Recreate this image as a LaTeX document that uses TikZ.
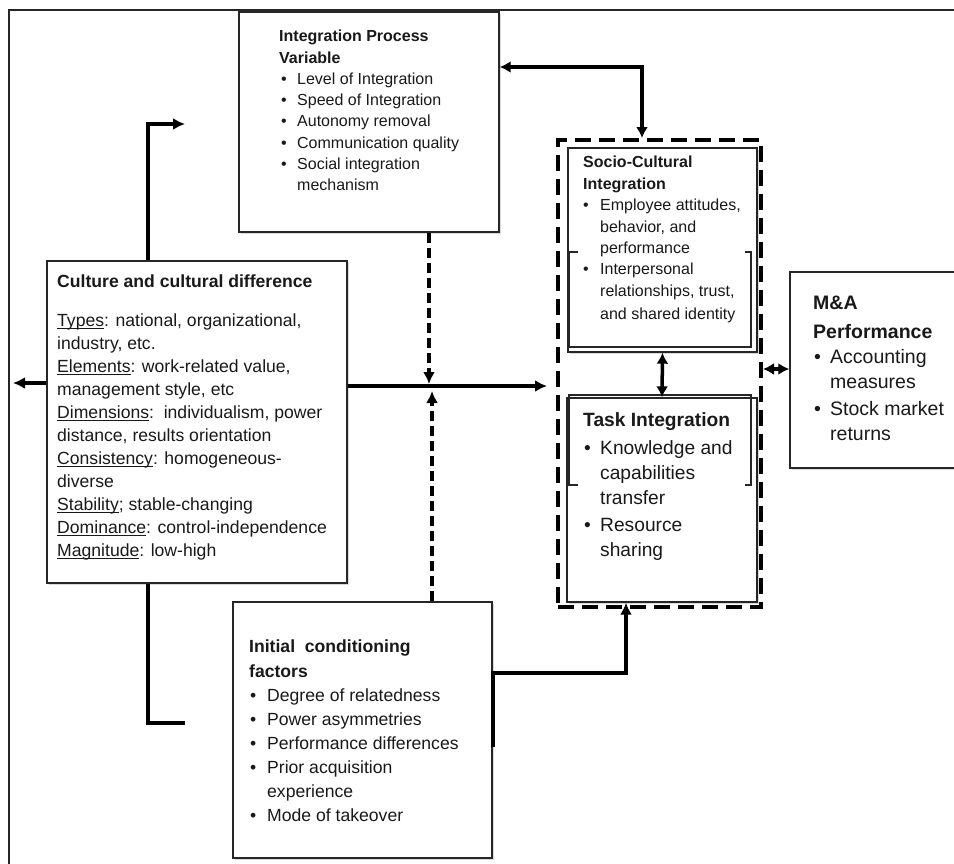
\documentclass[tikz,border=0pt]{standalone}
\usepackage{fontspec}
\setmainfont{Liberation Sans}
\usetikzlibrary{arrows.meta,shadows,calc}
\newcommand*{\bitem}[2]{\hspace*{#1}\makebox[#2][l]{\textbullet}}
\newcommand*{\bnext}[1]{\hspace*{#1}}
\newcommand*{\uword}[1]{\setbox0\hbox{#1}\rlap{\rule[-2.2pt]{\wd0}{0.9pt}}\box0}

\begin{document}
\begin{tikzpicture}[x=1pt,y=-1pt]
		\tikzset{
			box/.style = {draw = black!85, line width = 1.4pt, fill = white, inner sep = 0pt,
				drop shadow = {shadow xshift = 1.5pt, shadow yshift = -1.5pt, opacity = .3}},
			boxtext/.style = {anchor = north west, inner sep = 0pt, align = left, text = black!90},
			ghost/.style = {draw = black!85, line width = 1.2pt},
			dashframe/.style = {draw = black, line width = 4pt, dash pattern = on 16pt off 8pt, inner sep = 0pt},
			frameline/.style = {draw = black!85, line width = 2pt},
			flow/.style = {line width = 3.5pt, -{Latex[length = 12pt, width = 12pt]}},
			flowboth/.style = {line width = 3.5pt, {Latex[length = 11pt, width = 12pt]}-{Latex[length = 11pt, width = 12pt]}},
			dashflow/.style = {flow, dash pattern = on 10pt off 5pt},
			plainline/.style = {line width = 3.5pt},
		};

		\useasboundingbox (0,0) rectangle (954,863);
		\draw[frameline] (9,880) -- (9,10) -- (970,10);

		\node[box, minimum width = 260pt, minimum height = 220pt] (ipv) at (369,122) {};
		\node[box, minimum width = 300pt, minimum height = 322pt] (culture) at (197,422) {};
		\node[box, minimum width = 259pt, minimum height = 256pt] (initial) at (362.5,730) {};
		\node[dashframe, minimum width = 203pt, minimum height = 467pt] (integration) at (659.5,373.5) {};
		\node[box, minimum width = 189pt, minimum height = 204pt] (socio) at (662.5,250) {};
		\draw[ghost] (578,252) -- (569,252) -- (569,347) -- (751,347) -- (751,252) -- (745,252);
		\node[box, minimum width = 190pt, minimum height = 204pt] (task) at (662,500) {};
		\draw[ghost] (578,485) -- (569,485) -- (569,395) -- (751,395) -- (751,485) -- (745,485);
		\node[box, minimum width = 180pt, minimum height = 196pt] (mna) at (880,370) {};

		\node[boxtext, font = \fontsize{16}{21.3}\selectfont] (ipvtext) at (279,30) {%
			\textbf{Integration Process}\\
			\textbf{Variable}\\
			\bitem{2pt}{16pt}Level of Integration\\
			\bitem{2pt}{16pt}Speed of Integration\\
			\bitem{2pt}{16pt}Autonomy removal\\
			\bitem{2pt}{16pt}Communication quality\\
			\bitem{2pt}{16pt}Social integration\\
			\bnext{18pt}mechanism};
		\node[boxtext, font = \fontsize{17.6}{23}\selectfont] (culturetext) at (57,275) {%
			\textbf{Culture and cultural difference}\\[16pt]
			\uword{Types}: national, organizational,\\
			industry, etc.\\
			\uword{Elements}: work-related value,\\
			management style, etc\\
			\uword{Dimensions}:\ \ individualism, power\\
			distance, results orientation\\
			\uword{Consistency}: homogeneous-\\
			diverse\\
			\uword{Stability}; stable-changing\\
			\uword{Dominance}: control-independence\\
			\uword{Magnitude}: low-high};
		\node[boxtext, font = \fontsize{17.6}{24.1}\selectfont] (initialtext) at (249,640) {%
			\textbf{Initial\ \ conditioning}\\
			\textbf{factors}\\
			\bitem{1pt}{17pt}Degree of relatedness\\
			\bitem{1pt}{17pt}Power asymmetries\\
			\bitem{1pt}{17pt}Performance differences\\
			\bitem{1pt}{17pt}Prior acquisition\\
			\bnext{18pt}experience\\
			\bitem{1pt}{17pt}Mode of takeover};
		\node[boxtext, font = \fontsize{16}{21.4}\selectfont] (sociotext) at (583,156) {%
			\textbf{Socio-Cultural}\\
			\textbf{Integration}\\
			\bitem{0pt}{17pt}Employee attitudes,\\
			\bnext{17pt}behavior, and\\
			\bnext{17pt}performance\\
			\bitem{0pt}{17pt}Interpersonal\\
			\bnext{17pt}relationships, trust,\\[1.5pt]
			\bnext{17pt}and shared identity};
		\node[boxtext, font = \fontsize{19.2}{25}\selectfont] (tasktext) at (583,412) {%
			\textbf{Task Integration}\\[3pt]
			\bitem{1pt}{16pt}Knowledge and\\
			\bnext{17pt}capabilities\\
			\bnext{17pt}transfer\\[2pt]
			\bitem{1pt}{16pt}Resource\\
			\bnext{17pt}sharing};
		\node[boxtext, font = \fontsize{19.5}{24.5}\selectfont] (mnatext) at (813,296) {%
			\textbf{M\&A}\\[4pt]
			\textbf{Performance}\\[1pt]
			\bitem{1pt}{16pt}Accounting\\
			\bnext{17pt}measures\\[3pt]
			\bitem{1pt}{16pt}Stock market\\
			\bnext{17pt}returns};

		\coordinate (ipvturn) at (642,67);
		\coordinate (upturn) at (148,124);
		\coordinate (upend) at (185,124);
		\coordinate (downturn) at (148,723);
		\coordinate (downend) at (185,723);
		\coordinate (leftend) at (13,383);
		\coordinate (mainrow) at (0,386);
		\coordinate (meettop) at (429,384);
		\coordinate (meetbot) at (432,391);
		\coordinate (risebot) at (493,747);
		\coordinate (riseturn) at (493,673);
		\coordinate (risetop) at (626,673);
		\coordinate (sidelink) at (0,369);

		\draw[flowboth] (ipv.east |- ipvturn) -- (ipvturn) -- (ipvturn |- integration.north);
		\draw[flow] (culture.north -| upturn) -- (upturn) -- (upend);
		\draw[plainline] (culture.south -| downturn) -- (downturn) -- (downend);
		\draw[flow] (culture.west |- leftend) -- (leftend);
		\draw[flow] (culture.east |- mainrow) -- ($(integration.west |- mainrow)+(-9,0)$);
		\draw[dashflow] (ipv.south -| meettop) -- (meettop);
		\draw[dashflow] (initial.north -| meetbot) -- (meetbot);
		\draw[flow, line width = 4.5pt] (risebot) -- (riseturn) -- (risetop) -- (risetop |- task.south);
		\draw[flowboth] (socio.south) -- (task.north);
		\draw[flowboth] (integration.east |- sidelink) -- (mna.west |- sidelink);
	\end{tikzpicture}
\end{document}
